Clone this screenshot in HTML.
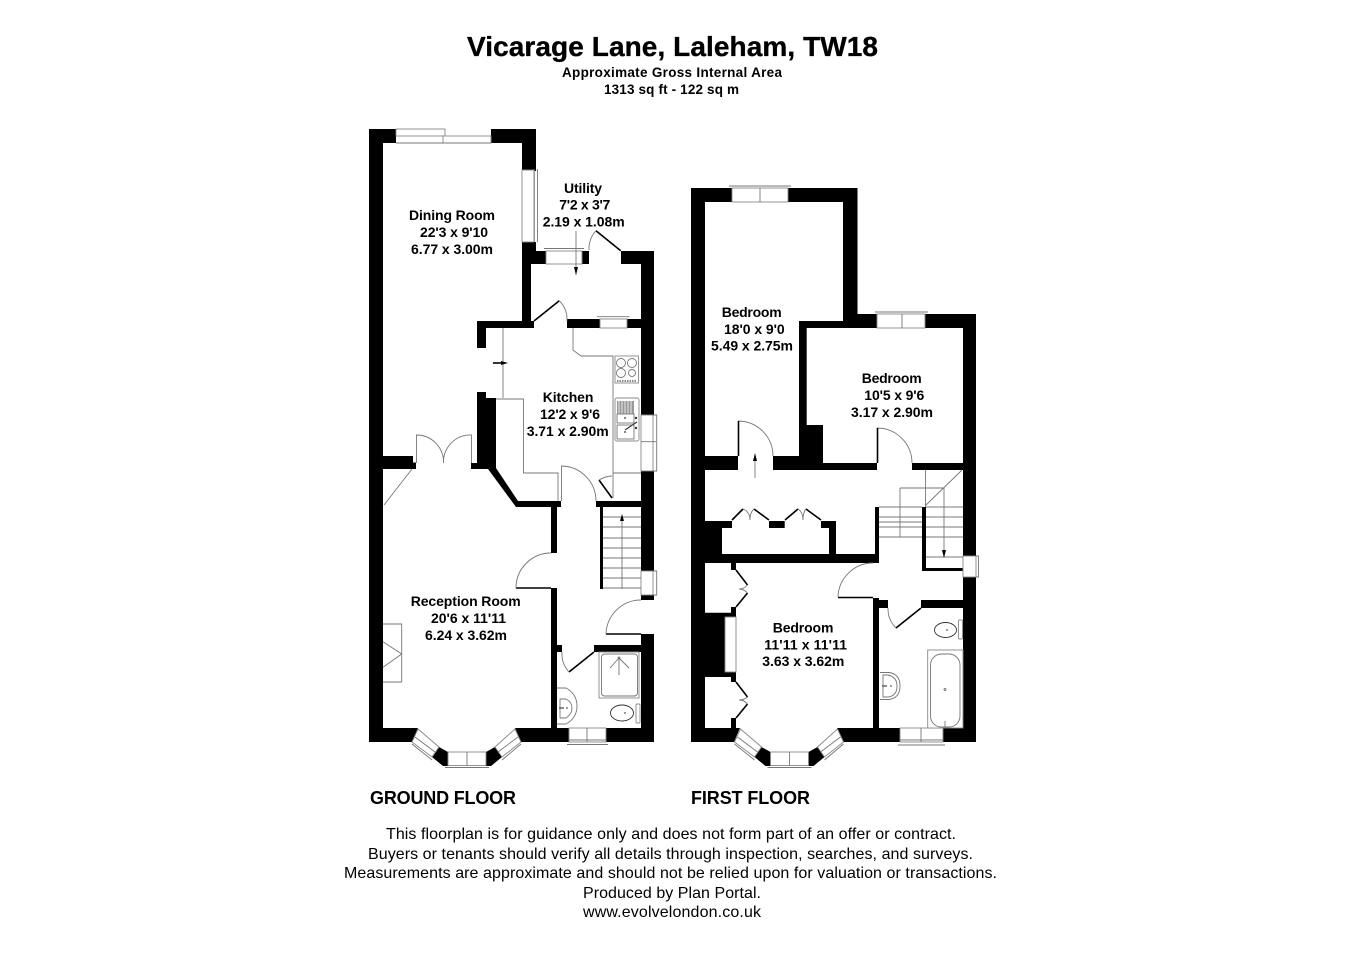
<!DOCTYPE html>
<html><head><meta charset="utf-8"><style>
html,body{margin:0;padding:0;background:#fff;width:1350px;height:954px;overflow:hidden}
svg{display:block;filter:blur(.3px)}
text{font-family:"Liberation Sans",sans-serif;fill:#000}
.b{font-weight:bold}
.r{font-weight:bold;font-size:14px}
.f{font-size:16px}
.w{fill:#000;stroke:none}
.g{fill:none;stroke:#777;stroke-width:.9}
.gw{fill:#fff;stroke:#888;stroke-width:.9}
.k{fill:none;stroke:#000;stroke-width:1.6}
</style></head><body>
<svg width="1350" height="954" viewBox="0 0 1350 954" xmlns="http://www.w3.org/2000/svg">
<rect width="1350" height="954" fill="#fff"/>
<text class="b" x="467" y="56" font-size="28" textLength="411" stroke="#000" stroke-width=".35">Vicarage Lane, Laleham, TW18</text>
<text class="b" x="562" y="77" font-size="13.5" textLength="220">Approximate Gross Internal Area</text>
<text class="b" x="604" y="94" font-size="13.5" textLength="135">1313 sq ft - 122 sq m</text>

<defs>
<g id="bay">
<polygon class="w" points="439,747 448,752 448,766 443,766 432,757"/>
<polygon class="w" points="495,747 486,752 486,766 491,766 502,757"/>
<polygon class="gw" points="418,729 439,747 432,757 412,742"/>
<polygon class="gw" points="515,729 495,747 502,757 521,742"/>
<path class="g" d="M412,744 L432,760 M415,737 L435,752 M521,744 L502,760 M518,737 L498,752"/>
<rect class="gw" x="448" y="752" width="38" height="13.5"/>
<path class="g" d="M445,767.5 H489 M467,752 V765.5"/>
</g>
</defs>

<!-- GROUND FLOOR walls -->
<g>
<path class="w" d="M369,129 H396 V143 H383 V456 H413 V462.500 H416 V469 H383 V728 H418 L412,742 H369 Z"/>
<rect class="w" x="491" y="129" width="45" height="14"/>
<rect class="w" x="522" y="129" width="14" height="42"/>
<path class="w" d="M522,242 H536 V251 H546 V264 H531 V322 H522 Z"/>
<rect class="w" x="582" y="251" width="7" height="13"/>
<path class="w" d="M621,251 H654 V415 H641 V264 H621 Z"/>
<path class="w" d="M477,321 H534 V328 H486 V348 H477 Z"/>
<rect class="w" x="567" y="319" width="33" height="9"/>
<rect class="w" x="627" y="319" width="14" height="9"/>
<path class="w" d="M477,392 H486 V398 H496 V468 L518,501 H561 V507 H557 V553 H551 V507 H516 L488,469 H471 V463 H477 Z"/>
<rect class="w" x="596" y="501" width="45" height="6"/>
<rect class="w" x="641" y="471" width="13" height="100"/>
<rect class="w" x="641" y="595" width="13" height="5"/>
<path class="w" d="M641,634 H654 V742 H569 V728 H641 V652 H594 V645 H641 Z"/>
<path class="w" d="M551,588 H557 V645 H562 V652 H557 V728 H569 V742 H521 L515,728 H551 Z"/>
<rect class="w" x="606" y="728" width="48" height="14"/>
<rect class="w" x="600" y="507" width="3" height="82"/>
</g>
<!-- ground windows -->
<rect class="gw" x="396" y="129" width="49" height="7"/>
<rect class="gw" x="443" y="136" width="48" height="7"/>
<path class="g" d="M396,143 H491"/>
<rect class="gw" x="522" y="170" width="12" height="72"/>
<path class="g" d="M534.300,169 V242 M537.500,169 V242"/>
<rect class="gw" x="546" y="251" width="36" height="13"/>
<path class="g" d="M544,248.500 H584"/>
<rect class="gw" x="600" y="319" width="27" height="9"/>
<path class="g" d="M597,316.700 H629.500"/>
<rect class="gw" x="641" y="415" width="12" height="56"/>
<path class="g" d="M653,415 H656.700 V471 H653 M641,441.700 H656"/>
<rect class="gw" x="641" y="571" width="12" height="24"/>
<path class="g" d="M653,571 H656.700 V595 H653"/>
<rect class="gw" x="569" y="728" width="37" height="14"/>
<path class="g" d="M567,744.500 H608 M587,728 V742 M569,740 H606"/>
<use href="#bay"/>
<!-- ground doors -->
<path class="k" d="M620.700,250.700 L596,230.700 M534,321 L559.300,300.700 M594,652 L569,672 M599,480 L612,498"/>
<path class="g" d="M596,230.700 A27,27 0 0 0 589,250 M559.300,300.700 A27,27 0 0 1 567,321 M569,672 A27,27 0 0 1 562,652 M599,480 Q606,476 612,476"/>
<path class="g" d="M416.500,463 V435 A27,27 0 0 1 443.500,463 M471.500,463 V435 A27,27 0 0 0 443.500,463"/>
<path class="g" d="M412,469 L384,505"/>
<path class="k" d="M516,588 H551 M606,634 H641" stroke-width="1.200"/>
<path class="g" d="M551,553 A35,35 0 0 0 516,588 M641,600 A35,35 0 0 0 606,634"/>
<path class="g" d="M561.500,501 V466 A35,35 0 0 1 596,501"/>
<!-- stairs ground -->
<path class="g" d="M603,517 H641 M603,527 H641 M603,538 H641 M603,548 H641 M603,558 H641 M603,568 H641 M603,578 H641 M603,588 H641 M622,516 V589"/>
<path d="M622,514 L620,521 H624 Z" fill="#000"/>
<!-- kitchen lines -->
<path class="g" d="M503,328 V398 M496,399 H523.500 V473 H558 V501 M573,328 V350 L581,356 H613 V498 M613,473 H641"/>
<path class="k" d="M493,363 H503" stroke-width="1"/>
<path d="M508,363 L501,361 V365 Z" fill="#000"/>
<path class="g" d="M576,231 V275"/>
<path d="M576,275 L574,267 H578 Z" fill="#000"/>
<!-- hob -->
<rect class="gw" x="615" y="356" width="23.500" height="27"/>
<circle class="g" cx="621" cy="363" r="4.500"/><circle class="g" cx="632" cy="363" r="4.500"/>
<circle class="g" cx="621" cy="373" r="4.500"/><circle class="g" cx="632" cy="373" r="3.500"/>
<path d="M617,381 H636" stroke="#777" stroke-width="1.800" stroke-dasharray="1.500 1"/>
<!-- sink -->
<rect class="gw" x="615" y="398" width="24" height="43" rx="2"/>
<rect x="617" y="401" width="17" height="13" fill="#999"/>
<path d="M619,401 V414 M622,401 V414 M625,401 V414 M628,401 V414 M631,401 V414" stroke="#fff" stroke-width=".8"/>
<rect class="g" x="617" y="414" width="17" height="9"/>
<rect class="g" x="617" y="425" width="17" height="14"/>
<path d="M625,430 L637,422" stroke="#333" stroke-width="1.100"/>
<circle cx="625" cy="418" r=".9" fill="#333"/><circle cx="625" cy="432" r=".9" fill="#333"/><circle cx="636" cy="418" r="1.200" fill="#333"/><circle cx="636" cy="428" r="1.200" fill="#333"/>
<!-- fireplace -->
<path class="g" d="M383,624 H401.700 V682 H383 M383,641.700 L401.700,654 L383,667.300"/>
<!-- shower -->
<rect class="gw" x="599" y="652" width="40" height="46"/>
<rect class="g" x="601.500" y="654" width="36" height="42" rx="3"/>
<path class="g" d="M619,658 L610,668 M619,658 L629,668 M619,658 V675"/><circle class="g" cx="619" cy="658" r="1"/>
<!-- WC -->
<ellipse cx="622" cy="713" rx="11.500" ry="8" fill="#fff" stroke="#333" stroke-width=".9"/>
<rect class="gw" x="636" y="704" width="4" height="19" rx="1"/><circle cx="625" cy="713" r=".9" fill="#555"/>
<!-- basin -->
<path class="g" d="M557,688 H566 Q577,694 577,706 Q577,718 566,724 H557"/>
<path class="g" d="M560,699 H566 Q572,702 572,708 Q572,714 566,718 H560 Z"/>
<circle cx="567" cy="708" r=".9" fill="#555"/><path d="M559,708 H564" stroke="#666" stroke-width="1.500"/>

<!-- FIRST FLOOR walls -->
<path class="w" d="M691,188 H732 V202 H705 V456 H738 V470 H705 V728 H740 L734,742 H691 Z"/>
<path class="w" d="M788,188 H857.500 V314 H877 V328 H806.700 V425 H823 V463 H877 V470 H773 V456 H799 V321 H843 V202 H788 Z"/>
<path class="w" d="M925,314 H976 V556 H963 V328 H925 Z"/>
<path class="w" d="M912,463 H963 V470 H912 Z"/>
<path class="w" d="M963,577 H976 V742 H943 V728 H963 V608 H921 V600 H963 Z"/>
<!-- landing wardrobes -->
<path class="w" d="M705,521 H732 V528 H722 V554 H829 V528 H821 V521 H836 V554 H875 V507 H879 V563 H705 Z"/>
<rect class="w" x="769" y="521" width="15.700" height="7"/>
<!-- stair inner wall -->
<path class="w" d="M922,507 H926 V568 H963 V571 H922 Z"/>
<!-- bedroom closets -->
<path class="w" d="M705,561 H736 V570 H731 V561 H705 Z"/>
<path class="w" d="M705,612.700 H731 V607 H736 V617 H725 V672 H736 V682 H731 V677 H705 Z"/>
<path class="w" d="M731,718 H736 V728 H731 Z"/>
<rect class="gw" x="725" y="617" width="11" height="55"/>
<!-- bath / hall -->
<path class="w" d="M873,598 H879 V600 H888 V608 H879 V728 H900 V742 H843 L837,728 H873 Z"/>
<!-- first windows -->
<rect class="gw" x="732" y="188" width="56" height="14"/>
<path class="g" d="M729,186 H791 M760,188 V202"/>
<rect class="gw" x="877" y="314" width="48" height="14"/>
<path class="g" d="M875,312 H928 M902,314 V328"/>
<rect class="gw" x="963" y="556" width="13" height="21"/>
<path class="g" d="M976,556 H978.500 V577 H976"/>
<rect class="gw" x="900" y="728" width="43" height="14"/>
<path class="g" d="M898,745 H945 M921,728 V742 M900,740 H943"/>
<use href="#bay" x="322.500"/>
<!-- first doors -->
<path class="g" d="M738.500,456 V421 A35,35 0 0 1 773,456 M877.500,463 V428 A35,35 0 0 1 912,463"/>
<path class="k" d="M738.500,456 V421 M877.500,463 V428" stroke-width="1"/>
<path class="g" d="M755,455 V478"/>
<path d="M755,453 L753,461 H757 Z" fill="#000"/>
<path class="k" d="M838,597.500 H873" stroke-width="1.100"/>
<path class="g" d="M873,563 A35,35 0 0 0 838,597"/>
<path class="k" d="M921,608 L896,628"/>
<path class="g" d="M896,628 A27,27 0 0 1 888,608"/>
<!-- bifold -->
<path class="k" d="M732,520 L743,509 M769,520 L754,509 M785,520 L798,509 M821,520 L806,509"/>
<path class="g" d="M743,509 Q750,512 750,520 M754,509 Q750,512 750,520 M798,509 Q803,512 803,520 M806,509 Q803,512 803,520"/>
<!-- closets doors -->
<path class="k" d="M736,570 L747.500,585 M736,607 L747.500,593 M736,682 L747.500,697 M736,718 L747.500,704"/>
<path class="g" d="M747.500,585 Q744,589 739,589 M747.500,593 Q744,589 739,589 M747.500,697 Q744,700 739,700 M747.500,704 Q744,700 739,700"/>
<!-- first stairs -->
<path class="g" d="M879,507 H922 M879,517 H922 M879,522 H922 M879,527 H922 M879,537 H922 M926,507 H963 M926,517 H963 M926,527 H963 M926,537 H963 M926,557 H963 M900,488 H944 M900,488 V537 M925.500,470 V507 M962,470 L925,506 M944,488 V557"/>
<path d="M944,558 L942,550 H946 Z" fill="#000"/>
<!-- bath -->
<rect class="gw" x="927.700" y="650" width="35.300" height="78"/>
<rect class="g" x="930.500" y="654" width="29.500" height="73" rx="11"/>
<circle class="g" cx="945" cy="689.500" r="1"/><path class="g" d="M945,721 V727"/>
<!-- WC first -->
<ellipse cx="945.500" cy="630" rx="11" ry="7.500" fill="#fff" stroke="#333" stroke-width=".9"/>
<rect class="gw" x="958.500" y="620" width="4" height="19" rx="1"/><circle cx="947" cy="630" r=".9" fill="#555"/>
<!-- basin first -->
<path class="g" d="M880,672.500 H889 Q900,674 900,686 Q900,698 889,699.500 H880"/>
<path class="g" d="M883,675 H888 Q897,677 897,686 Q897,696 888,697 H883 Z"/>
<circle cx="891" cy="686" r=".9" fill="#555"/><path d="M882,686 H887" stroke="#666" stroke-width="1.500"/>

<!-- room labels -->
<text class="r" x="409" y="220" textLength="86">Dining Room</text>
<text class="r" x="420" y="237" textLength="68">22'3 x 9'10</text>
<text class="r" x="411" y="254" textLength="82">6.77 x 3.00m</text>
<text class="r" x="564" y="193" textLength="38">Utility</text>
<text class="r" x="559.300" y="209.500" textLength="51">7'2 x 3'7</text>
<text class="r" x="542.700" y="226.500" textLength="82">2.19 x 1.08m</text>
<text class="r" x="542.700" y="402" textLength="50.700">Kitchen</text>
<text class="r" x="540" y="419" textLength="60">12'2 x 9'6</text>
<text class="r" x="526.700" y="436" textLength="82">3.71 x 2.90m</text>
<text class="r" x="410.700" y="606" textLength="110">Reception Room</text>
<text class="r" x="431" y="623" textLength="75">20'6 x 11'11</text>
<text class="r" x="425" y="640" textLength="82">6.24 x 3.62m</text>
<text class="r" x="721.700" y="317" textLength="60">Bedroom</text>
<text class="r" x="724" y="334" textLength="60.700">18'0 x 9'0</text>
<text class="r" x="711" y="350.700" textLength="82">5.49 x 2.75m</text>
<text class="r" x="861.700" y="383" textLength="60">Bedroom</text>
<text class="r" x="864.300" y="400" textLength="60">10'5 x 9'6</text>
<text class="r" x="851" y="417" textLength="82">3.17 x 2.90m</text>
<text class="r" x="772.700" y="632.700" textLength="60.700">Bedroom</text>
<text class="r" x="764.300" y="649.700" textLength="82.700">11'11 x 11'11</text>
<text class="r" x="762.300" y="666" textLength="82">3.63 x 3.62m</text>

<text class="b" x="370" y="804" font-size="18" textLength="146">GROUND FLOOR</text>
<text class="b" x="691" y="804" font-size="18" textLength="119">FIRST FLOOR</text>
<text class="f" x="386" y="839" textLength="570">This floorplan is for guidance only and does not form part of an offer or contract.</text>
<text class="f" x="368" y="859" textLength="605">Buyers or tenants should verify all details through inspection, searches, and surveys.</text>
<text class="f" x="344" y="878" textLength="653">Measurements are approximate and should not be relied upon for valuation or transactions.</text>
<text class="f" x="583" y="898" textLength="178">Produced by Plan Portal.</text>
<text class="f" x="583" y="917" textLength="178">www.evolvelondon.co.uk</text>
</svg>
</body></html>
